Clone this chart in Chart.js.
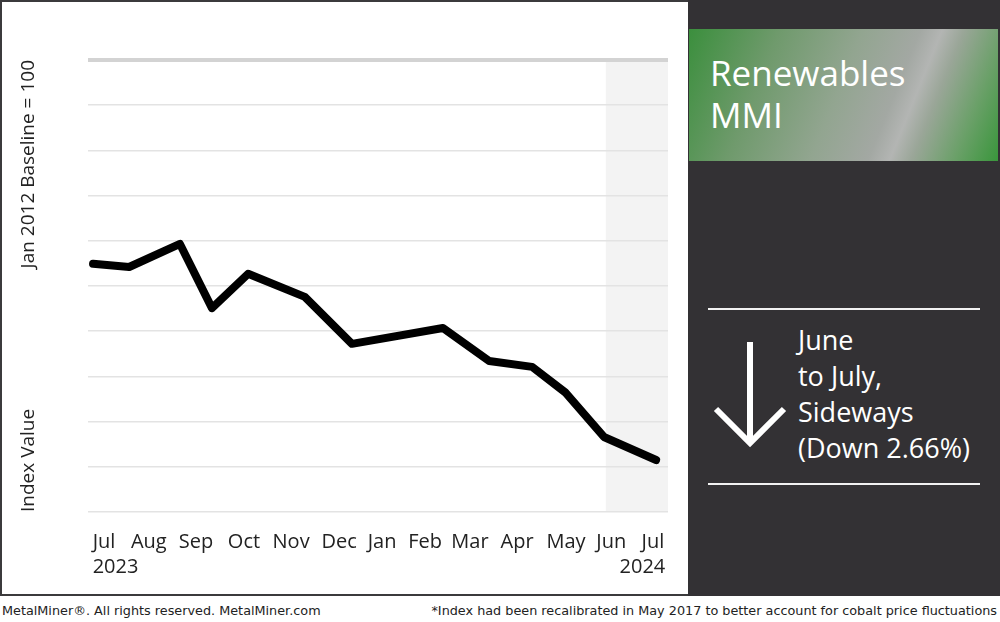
<!DOCTYPE html>
<html>
<head>
<meta charset="utf-8">
<script src="https://cdn.jsdelivr.net/npm/chart.js@4/dist/chart.umd.min.js"></script>
<style>
  body { margin: 0; width: 1000px; height: 622px; background: #fff; position: relative; overflow: hidden; font-family: "Open Sans", sans-serif; }
  #frame { position: absolute; left: 0; top: 0; width: 1000px; height: 596px; background: #3b3a3c; }
  #plot { position: absolute; left: 2px; top: 2px; width: 686px; height: 592px; background: #fff; }
  #side { position: absolute; left: 688px; top: 0; width: 312px; height: 596px; background: #333134; }
  #badge { position: absolute; left: 1px; top: 29px; width: 309px; height: 132px;
    background: linear-gradient(112deg, #3b8f3d 0%, #6f9a6c 25%, #92a590 48%, #a3a8a3 64%, #b3b5b3 70%, #9aa698 76%, #6aa068 88%, #3a963c 100%); }
  #badge div { position: absolute; left: 21px; color: #fff; font-size: 35px; line-height: 40px; }
  .rule { position: absolute; left: 20px; width: 272px; height: 2px; background: #f2f2f2; }
  #msg { position: absolute; left: 110px; top: 322px; color: #fff; font-size: 27px; line-height: 36px; }
  .foot { position: absolute; top: 603px; font-family: "DejaVu Sans", sans-serif; font-size: 12.8px; color: #222; white-space: nowrap; }
</style>
</head>
<body>
<div id="frame"></div>
<div id="plot"><canvas id="grafico" width="686" height="592"></canvas></div>
<div id="side">
  <div id="badge"><div style="top:24px">Renewables</div><div style="top:66px">MMI</div></div>
  <div class="rule" style="top:308px"></div>
  <svg style="position:absolute;left:0;top:0" width="312" height="596">
    <g stroke="#fff" stroke-width="6" fill="none" stroke-linecap="butt">
      <line x1="62" y1="342" x2="62" y2="442"/>
      <polyline points="28,409 62,443 96,409"/>
    </g>
  </svg>
  <div id="msg">June<br>to July,<br>Sideways<br>(Down 2.66%)</div>
  <div class="rule" style="top:483px"></div>
</div>
<div class="foot" style="left:2px">MetalMiner®. All rights reserved. MetalMiner.com</div>
<div class="foot" style="right:3px">*Index had been recalibrated in May 2017 to better account for cobalt price fluctuations</div>

<script>
// meses do eixo x (Jul 2023 - Jul 2024)
const monthLabels = ["Jul", "Aug", "Sep", "Oct", "Nov", "Dec", "Jan", "Feb", "Mar", "Apr", "May", "Jun", "Jul"];
const yearLabels = ["2023", "2024"];
// posição dos rótulos dos meses (o gráfico original não é bem regular)
const tickPos = [0, 0.98, 2.01, 3.06, 4.09, 5.14, 6.08, 7.02, 8.0, 9.03, 10.1, 11.09, 12.0];
// posição horizontal de cada ponto, em meses a partir de Jul 2023
const pointPos = [-0.24, 0.55, 1.66, 2.36, 3.15, 4.39, 5.42, 7.41, 8.42, 9.36, 10.08, 10.93, 12.07];
// valor do índice (escala relativa 0-100 do gráfico)
const indexValues = [54.9, 54.2, 59.3, 45.1, 52.7, 47.6, 37.2, 40.7, 33.4, 32.1, 26.5, 16.6, 11.5];
// faixa cinza do último mês
const bandStart = 10.97;

const fonte = "'Open Sans', sans-serif";

// -------------------------
// Plugins
// -------------------------
const faixaPlugin = {
  id: "faixa",
  beforeDraw(chart) {
    const { ctx, chartArea, scales } = chart;
    const x0 = scales.x.getPixelForValue(bandStart);
    ctx.save();
    ctx.fillStyle = "#f3f3f3";
    ctx.fillRect(x0, chartArea.top, chartArea.right - x0, chartArea.bottom - chartArea.top);
    ctx.restore();
  }
};

const textosPlugin = {
  id: "textos",
  afterDraw(chart) {
    const { ctx, chartArea, scales } = chart;
    ctx.save();
    ctx.fillStyle = "#222";
    ctx.font = "20px " + fonte;
    ctx.textBaseline = "alphabetic";

    // anos
    const wFirst = ctx.measureText(monthLabels[0]).width;
    const wLast = ctx.measureText(monthLabels[monthLabels.length - 1]).width;
    ctx.textAlign = "left";
    ctx.fillText(yearLabels[0], scales.x.getPixelForValue(tickPos[0]) - wFirst / 2, 571);
    ctx.textAlign = "right";
    ctx.fillText(yearLabels[1], scales.x.getPixelForValue(tickPos[12]) + wLast / 2 + 1, 571);

    // títulos do eixo y
    ctx.font = "19px " + fonte;
    ctx.translate(32, 0);
    ctx.rotate(-Math.PI / 2);
    ctx.textAlign = "right";
    ctx.fillText("Jan 2012 Baseline = 100", -chartArea.top, 0);
    ctx.textAlign = "left";
    ctx.fillText("Index Value", -chartArea.bottom, 0);
    ctx.restore();
  }
};

// -------------------------
// Gráfico
// -------------------------
const ctx = document.getElementById("grafico").getContext("2d");

new Chart(ctx, {
  type: "line",
  data: {
    datasets: [{
      data: pointPos.map((x, i) => ({ x: x, y: indexValues[i] })),
      borderColor: "#000",
      borderWidth: 8,
      borderJoinStyle: "round",
      borderCapStyle: "round",
      pointRadius: 0,
      tension: 0,
      fill: false
    }]
  },
  options: {
    responsive: false,
    animation: false,
    layout: { padding: { left: 86, top: 58, right: 20, bottom: 22 } },
    plugins: { legend: { display: false }, tooltip: { enabled: false } },
    scales: {
      x: {
        type: "linear",
        min: -0.35,
        max: 12.33,
        grid: { display: false },
        border: { display: false },
        afterBuildTicks: axis => { axis.ticks = tickPos.map(v => ({ value: v })); },
        afterFit: axis => { axis.height = 60; },
        ticks: {
          autoSkip: false,
          maxRotation: 0,
          padding: 10,
          color: "#222",
          font: { family: fonte, size: 20 },
          callback: (v, i) => monthLabels[i]
        }
      },
      y: {
        min: 0,
        max: 100,
        afterFit: axis => { axis.width = 0; },
        border: { display: false },
        ticks: { display: false, stepSize: 10 },
        grid: {
          drawTicks: false,
          color: c => c.tick.value === 100 ? "#d3d3d3" : "#e3e3e3",
          lineWidth: c => c.tick.value === 100 ? 4 : 1.5
        }
      }
    }
  },
  plugins: [faixaPlugin, textosPlugin]
});
</script>
</body>
</html>
